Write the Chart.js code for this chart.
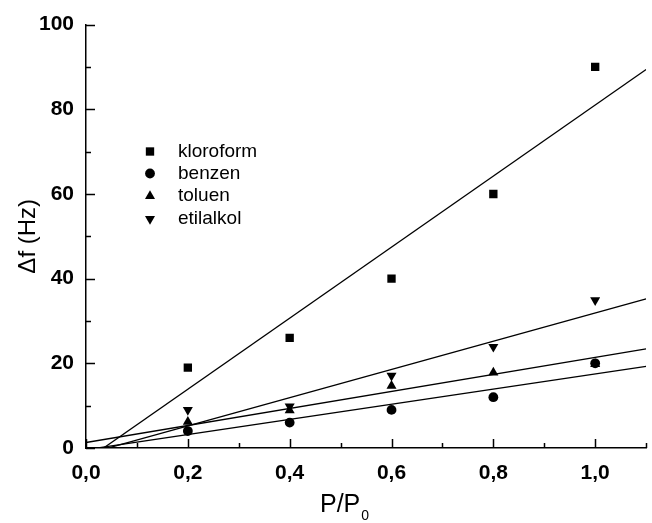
<!DOCTYPE html>
<html>
<head>
<meta charset="utf-8">
<script src="https://cdn.jsdelivr.net/npm/chart.js@4/dist/chart.umd.min.js"></script>
<style>
  html, body { margin: 0; padding: 0; background: #ffffff; }
  #wrap { width: 652px; height: 523px; position: relative; }
</style>
</head>
<body>
<div id="wrap"><canvas id="c" width="652" height="523"></canvas></div>
<script>
// ---- data ----
const pressureX = [0.2, 0.4, 0.6, 0.8, 1.0];
const kloroform = [19, 26, 40, 60, 90];
const benzen    = [4, 6, 9, 12, 20];
const toluen    = [6.2, 8.9, 14.7, 17.8, 19.8];
const etilalkol = [9, 9.8, 17.1, 23.9, 34.9];

// fitted lines, values read at the ends of the x range
const fitX          = [0, 1.1];
const kloroformFit  = [-2.9, 89.4];
const benzenFit     = [-0.4, 19.3];
const toluenFit     = [1.3, 23.4];
const etilalkolFit  = [-1.45, 35.2];

const seriesNames = ['kloroform', 'benzen', 'toluen', 'etilalkol'];

// tick values
const xMajorTicks = [0, 0.2, 0.4, 0.6, 0.8, 1.0];
const xMinorTicks = [0.1, 0.3, 0.5, 0.7, 0.9, 1.1];
const yMajorTicks = [0, 20, 40, 60, 80, 100];
const yMinorTicks = [10, 30, 50, 70, 90];

const FONT = "'Liberation Sans', Arial, Helvetica, sans-serif";

function pts(xs, ys) { return xs.map((x, i) => ({ x: x, y: ys[i] })); }

const markerStyles = [
  { pointStyle: 'rect', radius: 5.9, rotation: 0 },
  { pointStyle: 'circle', radius: 4.9, rotation: 0 },
  { pointStyle: 'triangle', radius: 5.8, rotation: 0 },
  { pointStyle: 'triangle', radius: 5.8, rotation: 180 }
];
const seriesValues = [kloroform, benzen, toluen, etilalkol];
const fitValues = [kloroformFit, benzenFit, toluenFit, etilalkolFit];

const datasets = [];
seriesNames.forEach((name, i) => {
  datasets.push({
    type: 'scatter',
    label: name,
    data: pts(pressureX, seriesValues[i]),
    showLine: false,
    pointStyle: markerStyles[i].pointStyle,
    pointRadius: markerStyles[i].radius,
    pointRotation: markerStyles[i].rotation,
    pointBackgroundColor: '#000',
    pointBorderColor: '#000',
    pointBorderWidth: 0,
    legendEntry: true,
    order: 1
  });
});
seriesNames.forEach((name, i) => {
  datasets.push({
    type: 'line',
    label: name + ' fit',
    data: pts(fitX, fitValues[i]),
    borderColor: '#000',
    borderWidth: 1.3,
    pointRadius: 0,
    fill: false,
    tension: 0,
    clip: 0,
    order: 2
  });
});

// inward major/minor tick marks
const tickPlugin = {
  id: 'inwardTicks',
  afterDatasetsDraw(chart) {
    const ctx = chart.ctx;
    const xs = chart.scales.x, ys = chart.scales.y;
    const left = chart.chartArea.left, bottom = chart.chartArea.bottom;
    ctx.save();
    ctx.strokeStyle = '#000';
    ctx.lineWidth = 1.5;
    ctx.beginPath();
    xMajorTicks.forEach(v => { const p = Math.round(xs.getPixelForValue(v)) + 0.5; ctx.moveTo(p, bottom); ctx.lineTo(p, bottom - 9); });
    xMinorTicks.forEach(v => { const p = Math.round(xs.getPixelForValue(v)) + 0.5; ctx.moveTo(p, bottom); ctx.lineTo(p, bottom - 5); });
    yMajorTicks.forEach(v => { const p = Math.round(ys.getPixelForValue(v)) + 0.5; ctx.moveTo(left, p); ctx.lineTo(left + 9, p); });
    yMinorTicks.forEach(v => { const p = Math.round(ys.getPixelForValue(v)) + 0.5; ctx.moveTo(left, p); ctx.lineTo(left + 5, p); });
    ctx.stroke();
    ctx.restore();
  }
};

// legend inside plot + x axis title with subscript
const legendPlugin = {
  id: 'innerLegend',
  afterDraw(chart) {
    const ctx = chart.ctx;
    ctx.save();
    const symX = 150, textX = 178, rowY = [151.5, 173.5, 196, 219];
    let row = 0;
    chart.data.datasets.forEach(ds => {
      if (!ds.legendEntry) return;
      const y = rowY[row++];
      ctx.fillStyle = '#000';
      ctx.strokeStyle = '#000';
      ctx.lineWidth = 0;
      Chart.helpers.drawPoint(ctx, { pointStyle: ds.pointStyle, radius: ds.pointRadius, rotation: ds.pointRotation, borderWidth: 0 }, symX, y);
      ctx.font = '19px ' + FONT;
      ctx.textBaseline = 'middle';
      ctx.textAlign = 'left';
      ctx.fillText(ds.label, textX, y);
    });
    // x axis title P/P0
    ctx.fillStyle = '#000';
    ctx.textBaseline = 'alphabetic';
    ctx.textAlign = 'left';
    ctx.font = '25px ' + FONT;
    const main = 'P/P';
    const w = ctx.measureText(main).width;
    const x0 = 320;
    ctx.fillText(main, x0, 512);
    ctx.font = '14px ' + FONT;
    ctx.fillText('0', x0 + w + 1, 520);
    ctx.restore();
  }
};

new Chart(document.getElementById('c'), {
  data: { datasets: datasets },
  options: {
    responsive: false,
    animation: false,
    devicePixelRatio: 1,
    layout: { padding: { top: 22, right: 2, left: 0, bottom: 0 } },
    plugins: {
      legend: { display: false },
      tooltip: { enabled: false }
    },
    scales: {
      x: {
        type: 'linear',
        min: 0, max: 1.1,
        afterBuildTicks: s => { s.ticks = xMajorTicks.map(v => ({ value: v })); },
        afterFit: s => { s.height = 75; },
        border: { display: true, color: '#000', width: 1.5 },
        grid: { display: true, drawOnChartArea: false, drawTicks: false, color: 'rgba(0,0,0,0)' },
        ticks: {
          color: '#000',
          padding: 13,
          maxRotation: 0,
          autoSkip: false,
          font: { family: FONT, size: 21, weight: 'bold' },
          callback: v => Number(v).toFixed(1).replace('.', ',')
        },
        title: { display: false }
      },
      y: {
        type: 'linear',
        min: 0, max: 100,
        afterBuildTicks: s => { s.ticks = yMajorTicks.map(v => ({ value: v })); },
        afterFit: s => { s.width = 86; },
        border: { display: true, color: '#000', width: 1.5 },
        grid: { display: true, drawOnChartArea: false, drawTicks: false, color: 'rgba(0,0,0,0)' },
        ticks: {
          color: '#000',
          padding: 12,
          autoSkip: false,
          font: { family: FONT, size: 21, weight: 'bold' },
          callback: v => String(v)
        },
        title: {
          display: true,
          text: 'Δf (Hz)',
          color: '#000',
          font: { family: FONT, size: 24 },
          padding: { top: 14, bottom: 0 }
        }
      }
    }
  },
  plugins: [tickPlugin, legendPlugin]
});
</script>
</body>
</html>
